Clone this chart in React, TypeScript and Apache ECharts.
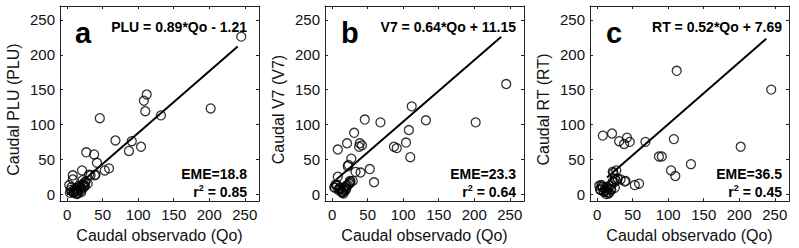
import React, { useEffect, useRef } from "react";
import * as echarts from "echarts";

// Observed flow (shared x values) and simulated flows for each panel
const qo = [245, 202, 132, 112, 108, 110, 104, 91, 87, 68, 59, 53, 46, 42, 38, 40, 39, 27, 21, 31, 29, 8, 8, 3, 22, 33, 25, 23,
  5, 10, 15, 20, 24, 17, 13, 12, 14, 18, 6, 9, 16, 19, 22, 11, 7, 14, 20, 25, 4, 26];
const plu = [226, 123, 113, 143, 134, 119, 68, 76, 62, 77, 37, 34, 109, 45, 57, 28, 27, 60, 34, 28, 15, 27, 21, 13, 20, 27, 17, 12,
  6, 3, 5, 8, 10, 10, 1, 4, 8, 12, 10, 2, 2, 5, 14, 7, 4, 0, 3, 12, 2, 18];
const v7 = [158, 103, 106, 126, 92, 53, 74, 66, 68, 103, 17, 36, 107, 70, 68, 31, 73, 51, 73, 88, 19, 64, 25, 10, 40, 32, 19, 42,
  14, 8, 3, 12, 15, 5, 4, 7, 2, 10, 12, 6, 1, 6, 13, 9, 13, 3, 8, 16, 9, 18];
const rt = [150, 68, 43, 177, 79, 26, 34, 54, 54, 75, 15, 13, 75, 81, 72, 19, 18, 34, 87, 76, 22, 84, 10, 12, 32, 21, 22, 30,
  6, 3, 8, 14, 17, 2, 0, 5, 10, 12, 13, 4, 1, 7, 18, 8, 11, 3, 6, 9, 7, 20];

// Drawn regression lines (endpoints)
const fitXA = [0, 240];
const fitYA = [-1, 212];
const fitXB = [6, 238];
const fitYB = [21, 226];
const fitXC = [14, 238];
const fitYC = [24, 223];

const tickValues = [0, 50, 100, 150, 200, 250];
const panelLetters = ["a", "b", "c"];
const yNames = ["Caudal PLU (PLU)", "Caudal V7 (V7)", "Caudal RT (RT)"];
const xName = "Caudal observado (Qo)";
const equations = ["PLU = 0.89*Qo - 1.21", "V7 = 0.64*Qo + 11.15", "RT = 0.52*Qo + 7.69"];
const emeTexts = ["EME=18.8", "EME=23.3", "EME=36.5"];
const r2Texts = ["0.85", "0.64", "0.45"];

const FONT = "Liberation Sans, Arial, Helvetica, sans-serif";

export default function App() {
  const ref = useRef<HTMLDivElement>(null);
  useEffect(() => {
    if (!ref.current) return;
    const chart = echarts.init(ref.current, null, { renderer: "svg" });
    const lefts = [60, 325, 590];
    const gw = 199;
    const top = 6;
    const gh = 196;
    const textRights = [247, 516, 782];
    const sims = [plu, v7, rt];
    const fits = [
      [fitXA, fitYA],
      [fitXB, fitYB],
      [fitXC, fitYC],
    ];

    const grids: any[] = [];
    const xAxes: any[] = [];
    const yAxes: any[] = [];
    const series: any[] = [];
    const graphics: any[] = [];
    const lineCol = "#222";

    lefts.forEach((l, i) => {
      grids.push({ left: l, top, width: gw, height: gh, containLabel: false });
      const common = {
        type: "value",
        min: -10,
        max: 270,
        gridIndex: i,
        splitLine: { show: false },
        axisLine: { show: true, onZero: false, lineStyle: { color: lineCol, width: 1 } },
        axisTick: { show: true, inside: true, length: 3, customValues: tickValues, lineStyle: { color: lineCol } },
      };
      xAxes.push({
        ...common,
        position: "bottom",
        name: xName,
        nameLocation: "middle",
        nameGap: 22,
        nameTextStyle: { fontFamily: FONT, fontSize: 16, color: "#111" },
        axisLabel: { show: true, customValues: tickValues, margin: 6, fontFamily: FONT, fontSize: 15, color: "#111" },
      });
      xAxes.push({ ...common, position: "top", axisLabel: { show: false } });
      yAxes.push({
        ...common,
        position: "left",
        name: yNames[i],
        nameLocation: "middle",
        nameGap: 39,
        nameTextStyle: { fontFamily: FONT, fontSize: 16, color: "#111", padding: [0, 12, 0, 0] },
        axisLabel: { show: true, customValues: tickValues, margin: 5, fontFamily: FONT, fontSize: 15, color: "#111" },
      });
      yAxes.push({ ...common, position: "right", axisLabel: { show: false } });

      series.push({
        type: "scatter",
        xAxisIndex: i * 2,
        yAxisIndex: i * 2,
        symbol: "circle",
        symbolSize: 9,
        itemStyle: { color: "rgba(0,0,0,0)", borderColor: "#000", borderWidth: 1.3 },
        data: qo.map((x, k) => [x, sims[i][k]]),
      });
      series.push({
        type: "line",
        xAxisIndex: i * 2,
        yAxisIndex: i * 2,
        symbol: "none",
        lineStyle: { color: "#000", width: 2 },
        data: fits[i][0].map((x, k) => [x, fits[i][1][k]]),
      });

      graphics.push({
        type: "text",
        left: undefined,
        x: l + 15 + (i === 0 ? 0 : 1),
        y: 33,
        style: { text: panelLetters[i], font: `bold 29px ${FONT}`, fill: "#000", verticalAlign: "middle", align: "left" },
      });
      graphics.push({
        type: "text",
        x: textRights[i],
        y: 27,
        style: { text: equations[i], font: `bold 14px ${FONT}`, fill: "#000", align: "right", verticalAlign: "middle" },
      });
      graphics.push({
        type: "text",
        x: textRights[i],
        y: 174,
        style: { text: emeTexts[i], font: `bold 14px ${FONT}`, fill: "#000", align: "right", verticalAlign: "middle" },
      });
      graphics.push({
        type: "text",
        x: textRights[i],
        y: 191,
        style: {
          text: `{b|r}{s|2}{b| = ${r2Texts[i]}}`,
          align: "right",
          verticalAlign: "middle",
          rich: {
            b: { font: `bold 14px ${FONT}`, fill: "#000", lineHeight: 16, verticalAlign: "bottom" },
            s: { font: `bold 9px ${FONT}`, fill: "#000", lineHeight: 16, verticalAlign: "top" },
          },
        },
      });
    });

    chart.setOption({
      animation: false,
      backgroundColor: "#fff",
      grid: grids,
      xAxis: xAxes,
      yAxis: yAxes,
      series,
      graphic: graphics,
    });
    return () => chart.dispose();
  }, []);
  return <div ref={ref} style={{ width: 799, height: 248, position: "absolute", left: 0, top: 0 }} />;
}
